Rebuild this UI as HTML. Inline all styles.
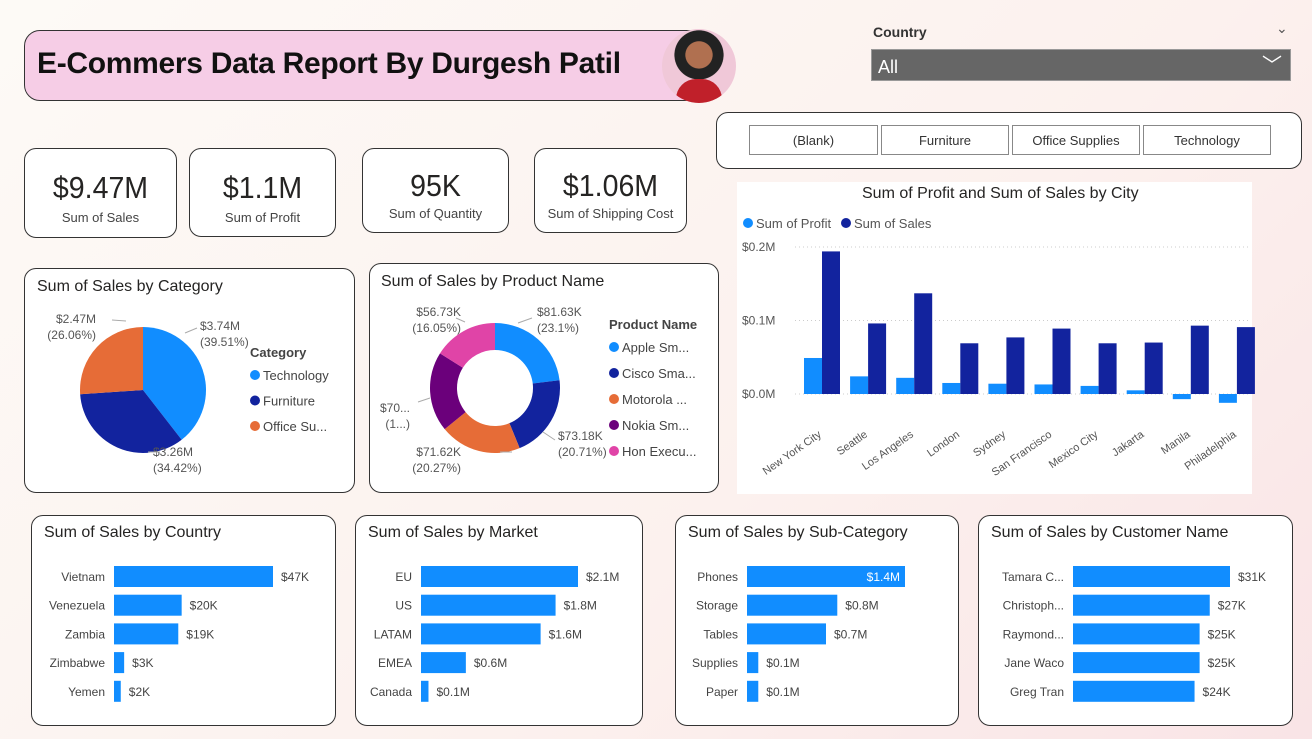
<!DOCTYPE html>
<html><head><meta charset="utf-8"><style>
body{margin:0;width:1312px;height:739px;overflow:hidden;font-family:"Liberation Sans",sans-serif;background:linear-gradient(135deg,#fdfaf6 0%,#fcf1ee 60%,#f9e4e6 100%);position:relative}
.card{position:absolute;background:#fff;border:1.3px solid #333;border-radius:12px;box-sizing:border-box}
.kpi{text-align:center}
.kpi .v{font-size:31px;color:#252423;margin-top:21px;line-height:36px;transform:scaleX(0.92)}
.kpi .l{font-size:13px;color:#444;margin-top:4px}
.t{position:absolute;font-size:16px;color:#252423}
.slicer{position:absolute;top:125px;height:30px;border:1px solid #888;background:#fff;font-size:13px;color:#333;text-align:center;line-height:30px;box-sizing:border-box}
svg{position:absolute;left:0;top:0}
</style></head><body>
<div style="position:absolute;left:24px;top:30px;width:690px;height:71px;background:#f6cde6;border:1.3px solid #333;border-radius:16px;box-sizing:border-box"></div>
<div style="position:absolute;left:37px;top:47px;font-size:30px;font-weight:bold;color:#111;letter-spacing:-0.3px">E-Commers Data Report By Durgesh Patil</div>
<div style="position:absolute;left:662px;top:29px;width:74px;height:74px;border-radius:50%;background:radial-gradient(circle at 50% 35%,#b07050 0 22%,#222 23% 40%,#f0c8d8 41%);overflow:hidden"><div style="position:absolute;left:14px;top:50px;width:46px;height:30px;background:#c0202a;border-radius:20px 20px 0 0"></div></div>
<div style="position:absolute;left:873px;top:24px;font-size:14px;font-weight:bold;color:#333">Country</div>
<div style="position:absolute;left:1276px;top:20px;font-size:14px;color:#555">⌄</div>
<div style="position:absolute;left:871px;top:49px;width:420px;height:32px;background:#666;border:1px solid #999;box-sizing:border-box;color:#fff;font-size:18px;line-height:34px;padding-left:6px">All<span style="position:absolute;right:8px;top:-1px;font-size:20px">﹀</span></div>
<div class="card" style="left:716px;top:112px;width:586px;height:57px"></div>
<div class="slicer" style="left:749px;width:129px">(Blank)</div>
<div class="slicer" style="left:881px;width:128px">Furniture</div>
<div class="slicer" style="left:1012px;width:128px">Office Supplies</div>
<div class="slicer" style="left:1143px;width:128px">Technology</div>

<div class="card kpi" style="left:24px;top:148px;width:153px;height:90px"><div class="v">$9.47M</div><div class="l">Sum of Sales</div></div>
<div class="card kpi" style="left:189px;top:148px;width:147px;height:89px"><div class="v">$1.1M</div><div class="l">Sum of Profit</div></div>
<div class="card kpi" style="left:362px;top:148px;width:147px;height:85px"><div class="v" style="margin-top:19px">95K</div><div class="l" style="margin-top:2px">Sum of Quantity</div></div>
<div class="card kpi" style="left:534px;top:148px;width:153px;height:85px"><div class="v" style="margin-top:19px">$1.06M</div><div class="l" style="margin-top:2px">Sum of Shipping Cost</div></div>

<div class="card" style="left:24px;top:268px;width:331px;height:225px"></div>
<div class="t" style="left:37px;top:278px">Sum of Sales by Category</div>
<div class="card" style="left:369px;top:263px;width:350px;height:230px"></div>
<div class="t" style="left:381px;top:273px">Sum of Sales by Product Name</div>
<div style="position:absolute;left:737px;top:182px;width:515px;height:312px;background:#fff"></div>
<div class="t" style="left:862px;top:185px">Sum of Profit and Sum of Sales by City</div>

<div class="card" style="left:31px;top:515px;width:305px;height:211px"></div>
<div class="t" style="left:44px;top:524px">Sum of Sales by Country</div>
<div class="card" style="left:355px;top:515px;width:288px;height:211px"></div>
<div class="t" style="left:368px;top:524px">Sum of Sales by Market</div>
<div class="card" style="left:675px;top:515px;width:284px;height:211px"></div>
<div class="t" style="left:688px;top:524px">Sum of Sales by Sub-Category</div>
<div class="card" style="left:978px;top:515px;width:315px;height:211px"></div>
<div class="t" style="left:991px;top:524px">Sum of Sales by Customer Name</div>

<svg id="s" width="1312" height="739" font-family="Liberation Sans, sans-serif"></svg>
<script>
// City chart data
const cities=["New York City","Seattle","Los Angeles","London","Sydney","San Francisco","Mexico City","Jakarta","Manila","Philadelphia"];
const cityProfit=[0.049,0.024,0.022,0.015,0.014,0.013,0.011,0.005,-0.007,-0.012];
const citySales=[0.194,0.096,0.137,0.069,0.077,0.089,0.069,0.070,0.093,0.091];
const cityTicks=[0,0.1,0.2];
const cityTickLabels=["$0.0M","$0.1M","$0.2M"];
// Category pie
const catNames=["Technology","Furniture","Office Su..."];
const catValues=[3.74,3.26,2.47];
const catLabels=["$3.74M","$3.26M","$2.47M"];
const catPct=["(39.51%)","(34.42%)","(26.06%)"];
// Product donut
const prodNames=["Apple Sm...","Cisco Sma...","Motorola ...","Nokia Sm...","Hon Execu..."];
const prodValues=[81.63,73.18,71.62,70.2,56.73];
const prodLabels=["$81.63K","$73.18K","$71.62K","$70...","$56.73K"];
const prodPct=["(23.1%)","(20.71%)","(20.27%)","(1...)","(16.05%)"];
// Bar charts
const countryNames=["Vietnam","Venezuela","Zambia","Zimbabwe","Yemen"];
const countryValues=[47,20,19,3,2];
const countryLabels=["$47K","$20K","$19K","$3K","$2K"];
const marketNames=["EU","US","LATAM","EMEA","Canada"];
const marketValues=[2.1,1.8,1.6,0.6,0.1];
const marketLabels=["$2.1M","$1.8M","$1.6M","$0.6M","$0.1M"];
const subNames=["Phones","Storage","Tables","Supplies","Paper"];
const subValues=[1.4,0.8,0.7,0.1,0.1];
const subLabels=["$1.4M","$0.8M","$0.7M","$0.1M","$0.1M"];
const custNames=["Tamara C...","Christoph...","Raymond...","Jane Waco","Greg Tran"];
const custValues=[31,27,25,25,24];
const custLabels=["$31K","$27K","$25K","$25K","$24K"];

const S=document.getElementById('s');const NS="http://www.w3.org/2000/svg";
function mk(tag,at,txt){const e=document.createElementNS(NS,tag);for(const k in at)e.setAttribute(k,at[k]);if(txt!=null)e.textContent=txt;S.appendChild(e);return e;}
const C=["#118DFF","#12239E","#E66C37","#6B007B","#E044A7"];

// City chart
const y0=394,pxPer=735;const cy=v=>y0-v*pxPer;const gx=i=>804+i*46.1;
cityTicks.forEach((t,i)=>{
 const g=mk('line',{x1:795,x2:1250,y1:cy(t),y2:cy(t),stroke:"#ccc","stroke-dasharray":"1 3"});
 
 const l=mk('text',{x:742,y:cy(t)+4,"font-size":12,fill:"#555"},cityTickLabels[i]);
 
});
cities.forEach((c,i)=>{
 const p=cityProfit[i],s=citySales[i];
 const b1=mk('rect',{x:gx(i),y:Math.min(cy(p),y0),width:18,height:Math.abs(p*pxPer),fill:C[0]});
 
 const b2=mk('rect',{x:gx(i)+18,y:cy(s),width:18,height:s*pxPer,fill:C[1]});
 
 const tx=gx(i)+18,ty=436;
 const l=mk('text',{x:tx,y:ty,"font-size":11,fill:"#555","text-anchor":"end",transform:`rotate(-35 ${tx} ${ty})`},c);
 
});
[[748,"Sum of Profit",C[0]],[846,"Sum of Sales",C[1]]].forEach(([x,t,col])=>{
 const d=mk('circle',{cx:x,cy:223,r:5,fill:col});
 const l=mk('text',{x:x+8,y:228,"font-size":13,fill:"#555"},t);
});

// slices
function arc(cx,cy,ro,ri,a0,a1){const p=(r,a)=>[cx+r*Math.sin(a),cy-r*Math.cos(a)];const lg=a1-a0>Math.PI?1:0;
 const [x0,y0]=p(ro,a0),[x1,y1]=p(ro,a1);
 if(ri===0)return `M${cx},${cy}L${x0},${y0}A${ro},${ro} 0 ${lg} 1 ${x1},${y1}Z`;
 const [x2,y2]=p(ri,a1),[x3,y3]=p(ri,a0);
 return `M${x0},${y0}A${ro},${ro} 0 ${lg} 1 ${x1},${y1}L${x2},${y2}A${ri},${ri} 0 ${lg} 0 ${x3},${y3}Z`;}
function pie(vals,cx,cy,ro,ri,name){const tot=vals.reduce((a,b)=>a+b,0);let a=0;
 vals.forEach((v,i)=>{const a1=a+v/tot*2*Math.PI;const e=mk('path',{d:arc(cx,cy,ro,ri,a,a1),fill:C[i]});
 a=a1;});return tot;}
pie(catValues,143,390,63,0,'category-slice');
pie(prodValues,495,388,65,38,'product-slice');
function lab(x,y,t1,t2,anchor,name){const a=mk('text',{x:x,y:y,"font-size":12,fill:"#555","text-anchor":anchor},t1);
 const b=mk('text',{x:x,y:y+16,"font-size":12,fill:"#555","text-anchor":anchor},t2);}
lab(200,330,catLabels[0],catPct[0],"start",'category-data-label');
lab(153,456,catLabels[1],catPct[1],"start",'category-data-label');
lab(96,323,catLabels[2],catPct[2],"end",'category-data-label');
lab(537,316,prodLabels[0],prodPct[0],"start",'product-data-label');
lab(558,440,prodLabels[1],prodPct[1],"start",'product-data-label');
lab(461,456,prodLabels[2],prodPct[2],"end",'product-data-label');
lab(410,412,prodLabels[3],prodPct[3],"end",'product-data-label');
lab(461,316,prodLabels[4],prodPct[4],"end",'product-data-label');
// leader lines
[[185,333,197,328],[126,321,112,320],[148,452,160,452],[518,323,532,318],[543,432,555,440],[500,452,512,452],[430,398,418,402],[465,322,456,318]].forEach(l=>{const e=mk('polyline',{points:`${l[0]},${l[1]} ${l[2]},${l[3]}`,stroke:"#aaa",fill:"none"});});
// legends
function legend(x,y,title,names,step,name){const t=mk('text',{x:x,y:y,"font-size":13,"font-weight":"bold",fill:"#444"},title);
 names.forEach((n,i)=>{const yy=y+22+i*step;const c=mk('circle',{cx:x+5,cy:yy-4,r:5,fill:C[i]});
 const l=mk('text',{x:x+13,y:yy+1,"font-size":13,fill:"#444"},n);});}
legend(250,357,"Category",catNames,25.5,'category-legend');
legend(609,329,"Product Name",prodNames,26,'product-legend');

// bar charts
function hbar(x0,maxW,maxV,names,vals,labels,name,inside){
 vals.forEach((v,i)=>{const y=566+i*28.7;const w=v/maxV*maxW;
 const b=mk('rect',{x:x0,y:y,width:w,height:21,fill:C[0]});
 const n=mk('text',{x:x0-9,y:y+15,"font-size":12,fill:"#444","text-anchor":"end"},names[i]);
 const isIn=inside&&i===0;
 const l=mk('text',{x:isIn?x0+w-5:x0+w+8,y:y+15,"font-size":12,fill:isIn?"#fff":"#444","text-anchor":isIn?"end":"start"},labels[i]);});}
hbar(114,159,47,countryNames,countryValues,countryLabels,'country',false);
hbar(421,157,2.1,marketNames,marketValues,marketLabels,'market',false);
hbar(747,158,1.4,subNames,subValues,subLabels,'subcategory',true);
hbar(1073,157,31,custNames,custValues,custLabels,'customer',false);
</script>
</body></html>
